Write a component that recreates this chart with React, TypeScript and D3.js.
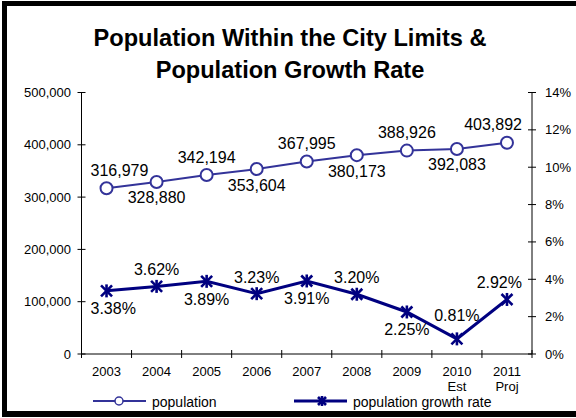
import React from "react";
import * as d3 from "d3";

const years = ["2003", "2004", "2005", "2006", "2007", "2008", "2009", "2010", "2011"];
const subLabels = ["", "", "", "", "", "", "", "Est", "Proj"];
const population = [316979, 328880, 342194, 353604, 367995, 380173, 388926, 392083, 403892];
const growth = [3.38, 3.62, 3.89, 3.23, 3.91, 3.2, 2.25, 0.81, 2.92];
const popLabelAbove = [true, false, true, false, true, false, true, false, true];
const growthLabelAbove = [false, true, false, true, false, true, false, true, true];
const leftTicks = [0, 100000, 200000, 300000, 400000, 500000];
const rightTicks = [0, 2, 4, 6, 8, 10, 12, 14];

const W = 576, H = 418;
const L = 81.5, R = 532, T = 92.5, B = 354;
const FONT = "Arial, 'Liberation Sans', sans-serif";
const POP = "#333399";
const GR = "#000080";

function textWidth(s: string, size: number) {
  let w = 0;
  for (const ch of s) {
    if (ch === "," || ch === ".") w += 0.278;
    else if (ch === "%") w += 0.889;
    else w += 0.556;
  }
  return w * size;
}

function labelX(x: number, s: string, size: number) {
  const half = textWidth(s, size) / 2;
  const lo = L + 9 + half;
  const hi = R - 10 - half;
  return Math.max(lo, Math.min(hi, x));
}

function Star({ x, y, s = 5.5 }: { x: number; y: number; s?: number }) {
  return (
    <g stroke={GR} strokeWidth={2.6}>
      <line x1={x - s} y1={y - s} x2={x + s} y2={y + s} />
      <line x1={x - s} y1={y + s} x2={x + s} y2={y - s} />
      <line x1={x} y1={y - s - 1} x2={x} y2={y + s + 1} />
    </g>
  );
}

export default function App() {
  const x = d3.scaleBand<string>().domain(years).range([L, R]);
  const yL = d3.scaleLinear().domain([0, 500000]).range([B, T]);
  const yR = d3.scaleLinear().domain([0, 14]).range([B, T]);
  const cx = (d: string) => (x(d) as number) + x.bandwidth() / 2;
  const fmt = d3.format(",");

  const popLine = d3.line<number>().x((_, i) => cx(years[i])).y((d) => yL(d));
  const grLine = d3.line<number>().x((_, i) => cx(years[i])).y((d) => yR(d));

  const bounds = years.map((y) => x(y) as number).concat([R]);

  const growthAboveOffset = (i: number) => {
    const y0 = yR(growth[i]);
    const neighbours = [i - 1, i + 1].filter((j) => j >= 0 && j < growth.length).map((j) => yR(growth[j]));
    const minNeighbour = Math.min(...neighbours);
    return minNeighbour < y0 - 25 ? -18 : -11;
  };

  return (
    <svg width={W} height={H} style={{ position: "absolute", left: 0, top: 0 }} fontFamily={FONT}>
      <rect x={0} y={0} width={W} height={H} fill="#fff" />
      <rect x={2} y={1} width={W - 2} height={5} fill="#000" />
      <rect x={2} y={1} width={5} height={416} fill="#000" />
      <rect x={2} y={411} width={W - 2} height={6} fill="#000" />

      <text x={290} y={46} textAnchor="middle" fontSize={23.6} fontWeight="bold" fill="#000">
        Population Within the City Limits &amp;
      </text>
      <text x={290} y={78} textAnchor="middle" fontSize={23.6} fontWeight="bold" fill="#000">
        Population Growth Rate
      </text>

      <line x1={L} y1={T} x2={L} y2={B} stroke="#000" />
      <line x1={R} y1={T} x2={R} y2={B} stroke="#000" />
      <line x1={L} y1={B} x2={R} y2={B} stroke="#000" />
      {leftTicks.map((t) => (
        <g key={"l" + t}>
          <line x1={L - 4} x2={L + 4} y1={yL(t)} y2={yL(t)} stroke="#000" />
          <text x={71} y={yL(t) + 4.5} textAnchor="end" fontSize={13} fill="#000">
            {fmt(t)}
          </text>
        </g>
      ))}
      {rightTicks.map((t) => (
        <g key={"r" + t}>
          <line x1={R - 4} x2={R + 4} y1={yR(t)} y2={yR(t)} stroke="#000" />
          <text x={545} y={yR(t) + 4.5} textAnchor="start" fontSize={13} fill="#000">
            {t + "%"}
          </text>
        </g>
      ))}
      {bounds.map((b, i) => (
        <line key={"b" + i} x1={b} x2={b} y1={B - 4} y2={B + 4} stroke="#000" />
      ))}
      {years.map((yr, i) => (
        <g key={"x" + yr}>
          <text x={cx(yr)} y={375.5} textAnchor="middle" fontSize={13} fill="#000">
            {yr}
          </text>
          {subLabels[i] && (
            <text x={cx(yr)} y={390.5} textAnchor="middle" fontSize={13} fill="#000">
              {subLabels[i]}
            </text>
          )}
        </g>
      ))}

      <path d={popLine(population) || ""} fill="none" stroke={POP} strokeWidth={2} />
      {population.map((v, i) => (
        <circle key={"c" + i} cx={cx(years[i])} cy={yL(v)} r={6} fill="#fff" stroke={POP} strokeWidth={2} />
      ))}
      {population.map((v, i) => (
        <text
          key={"pl" + i}
          x={labelX(cx(years[i]), fmt(v), 16)}
          y={yL(v) + (popLabelAbove[i] ? -12.5 : 21.5)}
          textAnchor="middle"
          fontSize={16}
          fill="#000"
        >
          {fmt(v)}
        </text>
      ))}

      <path d={grLine(growth) || ""} fill="none" stroke={GR} strokeWidth={3} />
      {growth.map((v, i) => (
        <Star key={"s" + i} x={cx(years[i])} y={yR(v)} />
      ))}
      {growth.map((v, i) => (
        <text
          key={"gl" + i}
          x={labelX(cx(years[i]), v.toFixed(2) + "%", 16)}
          y={yR(v) + (growthLabelAbove[i] ? growthAboveOffset(i) : 23.5)}
          textAnchor="middle"
          fontSize={16}
          fill="#000"
        >
          {v.toFixed(2) + "%"}
        </text>
      ))}

      <line x1={93} x2={146} y1={401} y2={401} stroke={POP} strokeWidth={2} />
      <circle cx={119} cy={401} r={4} fill="#fff" stroke={POP} strokeWidth={1.5} />
      <text x={152} y={406.5} fontSize={14} fill="#000">population</text>
      <line x1={294} x2={347} y1={401} y2={401} stroke={GR} strokeWidth={3} />
      <Star x={322} y={401} s={4} />
      <text x={353} y={406.5} fontSize={14} fill="#000">population growth rate</text>
    </svg>
  );
}
